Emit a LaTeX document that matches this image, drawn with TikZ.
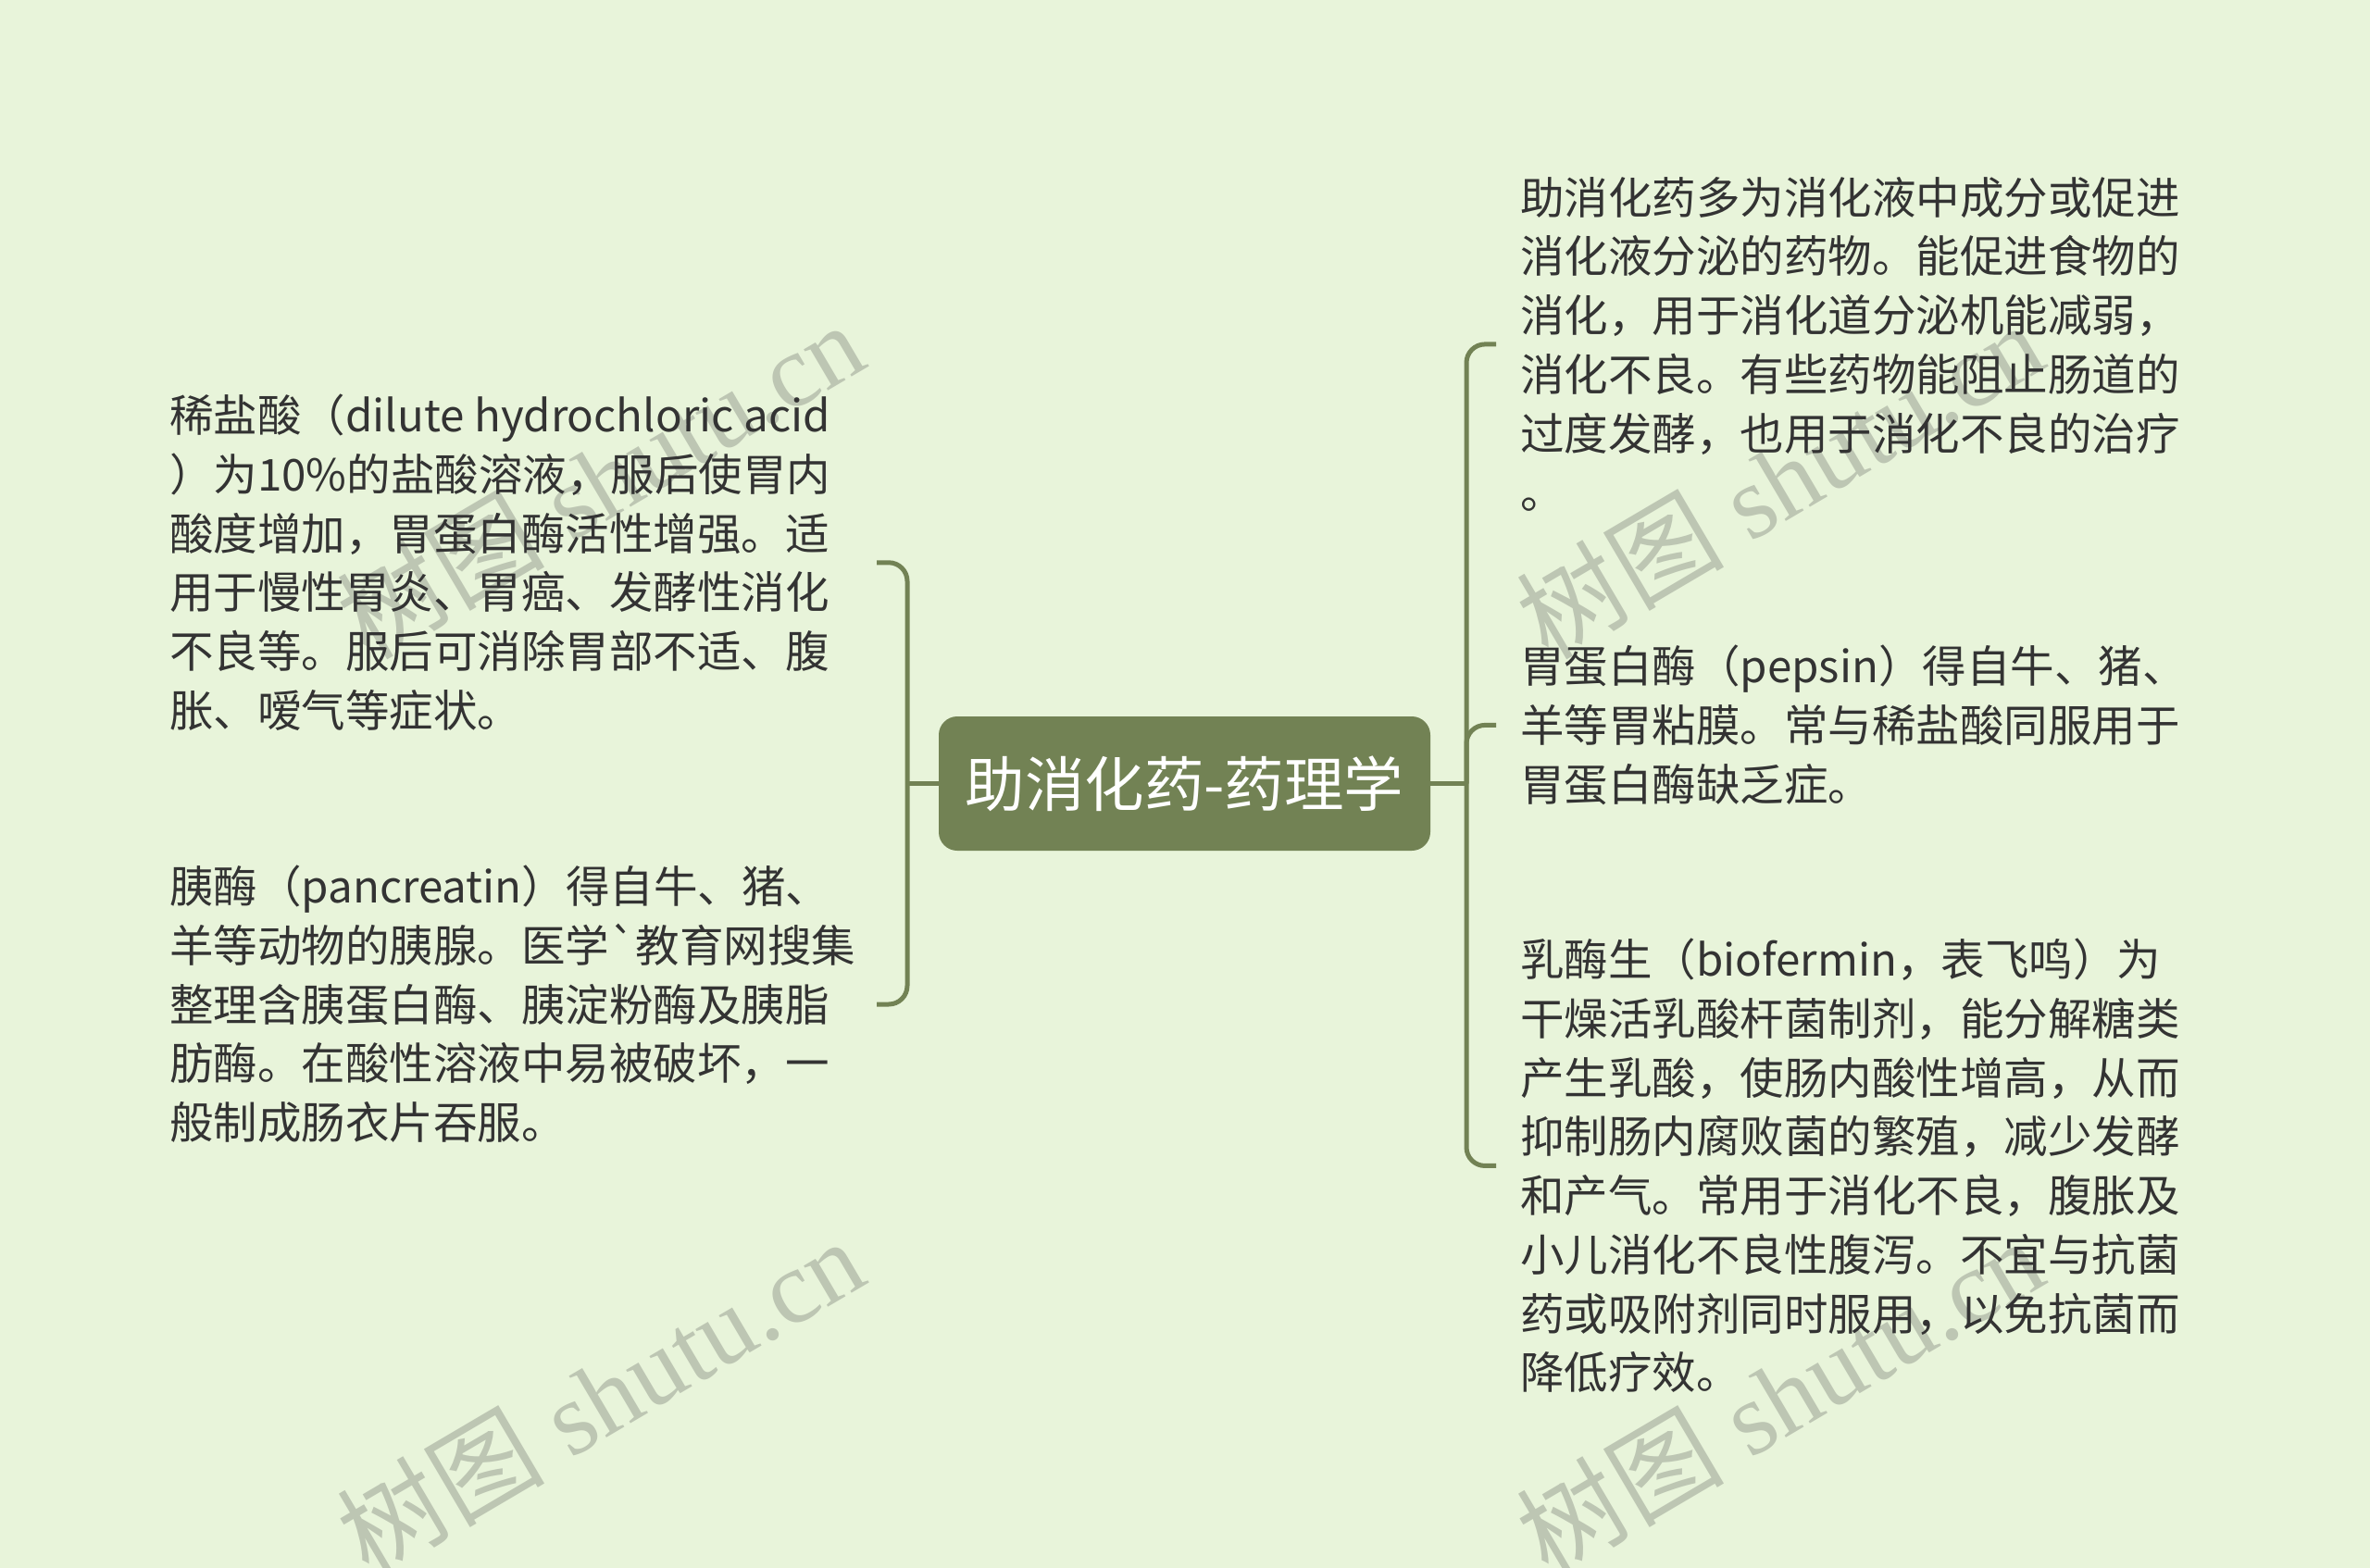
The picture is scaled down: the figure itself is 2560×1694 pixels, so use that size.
\documentclass[tikz,border=0pt]{standalone}
\usepackage{fontspec}
\newfontfamily\cjk{Noto Sans CJK SC}
\newfontfamily\wmserif{Liberation Serif}
\definecolor{bg}{HTML}{E8F4DA}
\definecolor{olive}{HTML}{728254}
\definecolor{txt}{HTML}{333333}
\definecolor{wm}{HTML}{BDC6B3}
\tikzset{
  body/.style={font=\cjk\fontsize{47.5}{63.7}\selectfont, text=txt, align=left, inner sep=0pt, anchor=north west},
  rootbox/.style={fill=olive, rounded corners=20pt, minimum width=531pt, minimum height=145pt, text=white, inner sep=0pt, font=\cjk\fontsize{64.5}{72}\selectfont},
  conn/.style={draw=olive, line width=5pt, rounded corners=20pt},
  wmark/.style={text=wm, rotate=30.5, inner sep=0pt, font=\wmserif\fontsize{112}{116}\selectfont}
}
\begin{document}
\begin{tikzpicture}[x=1pt,y=-1pt]
\useasboundingbox (0,0) rectangle (2560,1694);
\fill[bg] (0,0) rectangle (2560,1694);
% watermarks
\node[wmark] (w1) at (648,518) {{\cjk 树图} shutu.cn};
\node[wmark] (w2) at (648,1508) {{\cjk 树图} shutu.cn};
\node[wmark] (w3) at (1922,518) {{\cjk 树图} shutu.cn};
\node[wmark] (w4) at (1922,1508) {{\cjk 树图} shutu.cn};
% root
\node[rootbox] (c) at (1279.5,846.5) {助消化药-药理学};
% left texts
\node[body] (lt1) at (183,426) {稀盐酸（dilute hydrochloric acid\\）为10\%的盐酸溶液，服后使胃内\\酸度增加，胃蛋白酶活性增强。适\\用于慢性胃炎、胃癌、发酵性消化\\不良等。服后可消除胃部不适、腹\\胀、嗳气等症状。};
\node[body] (lt2) at (183,935) {胰酶（pancreatin）得自牛、猪、\\羊等动物的胰腺。医学`教育网搜集\\整理含胰蛋白酶、胰淀粉酶及胰脂\\肪酶。在酸性溶液中易被破坏，一\\般制成肠衣片吞服。};
% right texts
\node[body] (rt1) at (1642,191) {助消化药多为消化液中成分或促进\\消化液分泌的药物。能促进食物的\\消化，用于消化道分泌机能减弱，\\消化不良。有些药物能阻止肠道的\\过度发酵，也用于消化不良的治疗\\。};
\node[body] (rt2) at (1642,697) {胃蛋白酶（pepsin）得自牛、猪、\\羊等胃粘膜。常与稀盐酸同服用于\\胃蛋白酶缺乏症。};
\node[body] (rt3) at (1642,1014) {乳酶生（biofermin，表飞鸣）为\\干燥活乳酸杆菌制剂，能分解糖类\\产生乳酸，使肠内酸性增高，从而\\抑制肠内腐败菌的繁殖，减少发酵\\和产气。常用于消化不良，腹胀及\\小儿消化不良性腹泻。不宜与抗菌\\药或吸附剂同时服用，以免抗菌而\\降低疗效。};
% connector coordinates
\coordinate (Lx) at (947,0);
\coordinate (Lbus) at (980,846.5);
\coordinate (L1) at (lt1.west -| Lx);
\coordinate (L2) at (lt2.west -| Lx);
\coordinate (Rbus) at (1584,846.5);
\coordinate (R1) at ([xshift=-26pt]rt1.west);
\coordinate (R2) at ([xshift=-26pt]rt2.west);
\coordinate (R3) at ([xshift=-26pt]rt3.west);
% connectors
\draw[conn] (c.west) -- (Lbus);
\draw[conn] (L1) -| (Lbus) |- (L2);
\draw[conn] (c.east) -- (Rbus);
\draw[conn] (R1) -| (Rbus) |- (R3);
\draw[conn] (R2) -| (Rbus);
\end{tikzpicture}
\end{document}
